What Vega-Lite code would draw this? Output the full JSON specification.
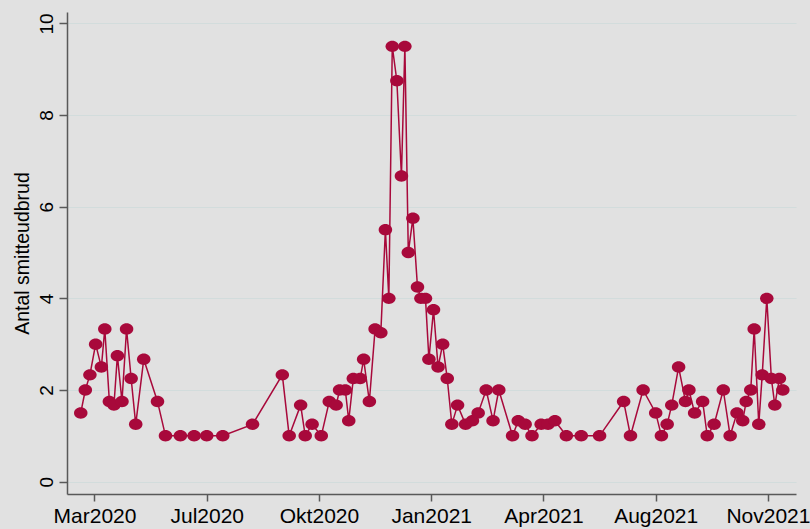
{
  "$schema": "https://vega.github.io/schema/vega-lite/v6.json",
  "autosize": "none",
  "width": 729,
  "height": 482,
  "padding": {"left": 67, "top": 12, "right": 14, "bottom": 35},
  "background": "#e1e1e1",
  "config": {
    "view": {"stroke": null},
    "font": "Liberation Sans",
    "axis": {
      "domainColor": "#595959",
      "domainWidth": 1.5,
      "tickColor": "#595959",
      "tickWidth": 1.5,
      "labelColor": "#000000",
      "titleColor": "#000000",
      "labelFont": "Liberation Sans",
      "titleFont": "Liberation Sans",
      "titleFontWeight": "normal"
    }
  },
  "data": {
    "values": [
      {"dato": "2020-03-18", "antal": 1.5},
      {"dato": "2020-03-22", "antal": 2},
      {"dato": "2020-03-26", "antal": 2.33},
      {"dato": "2020-03-31", "antal": 3},
      {"dato": "2020-04-05", "antal": 2.5},
      {"dato": "2020-04-08", "antal": 3.33},
      {"dato": "2020-04-12", "antal": 1.75},
      {"dato": "2020-04-16", "antal": 1.67},
      {"dato": "2020-04-19", "antal": 2.75},
      {"dato": "2020-04-23", "antal": 1.75},
      {"dato": "2020-04-27", "antal": 3.33},
      {"dato": "2020-05-01", "antal": 2.25},
      {"dato": "2020-05-05", "antal": 1.25},
      {"dato": "2020-05-12", "antal": 2.67},
      {"dato": "2020-05-24", "antal": 1.75},
      {"dato": "2020-05-31", "antal": 1},
      {"dato": "2020-06-13", "antal": 1},
      {"dato": "2020-06-25", "antal": 1},
      {"dato": "2020-07-06", "antal": 1},
      {"dato": "2020-07-20", "antal": 1},
      {"dato": "2020-08-15", "antal": 1.25},
      {"dato": "2020-09-10", "antal": 2.33},
      {"dato": "2020-09-16", "antal": 1},
      {"dato": "2020-09-26", "antal": 1.67},
      {"dato": "2020-09-30", "antal": 1},
      {"dato": "2020-10-06", "antal": 1.25},
      {"dato": "2020-10-14", "antal": 1},
      {"dato": "2020-10-21", "antal": 1.75},
      {"dato": "2020-10-27", "antal": 1.67},
      {"dato": "2020-10-30", "antal": 2},
      {"dato": "2020-11-04", "antal": 2},
      {"dato": "2020-11-07", "antal": 1.33},
      {"dato": "2020-11-11", "antal": 2.25},
      {"dato": "2020-11-17", "antal": 2.25},
      {"dato": "2020-11-20", "antal": 2.67},
      {"dato": "2020-11-25", "antal": 1.75},
      {"dato": "2020-11-30", "antal": 3.33},
      {"dato": "2020-12-05", "antal": 3.25},
      {"dato": "2020-12-09", "antal": 5.5},
      {"dato": "2020-12-12", "antal": 4},
      {"dato": "2020-12-15", "antal": 9.5},
      {"dato": "2020-12-19", "antal": 8.75},
      {"dato": "2020-12-23", "antal": 6.67},
      {"dato": "2020-12-26", "antal": 9.5},
      {"dato": "2020-12-29", "antal": 5},
      {"dato": "2021-01-02", "antal": 5.75},
      {"dato": "2021-01-06", "antal": 4.25},
      {"dato": "2021-01-09", "antal": 4},
      {"dato": "2021-01-13", "antal": 4},
      {"dato": "2021-01-16", "antal": 2.67},
      {"dato": "2021-01-20", "antal": 3.75},
      {"dato": "2021-01-24", "antal": 2.5},
      {"dato": "2021-01-28", "antal": 3},
      {"dato": "2021-02-01", "antal": 2.25},
      {"dato": "2021-02-05", "antal": 1.25},
      {"dato": "2021-02-10", "antal": 1.67},
      {"dato": "2021-02-17", "antal": 1.25},
      {"dato": "2021-02-23", "antal": 1.33},
      {"dato": "2021-02-28", "antal": 1.5},
      {"dato": "2021-03-07", "antal": 2},
      {"dato": "2021-03-13", "antal": 1.33},
      {"dato": "2021-03-18", "antal": 2},
      {"dato": "2021-03-30", "antal": 1},
      {"dato": "2021-04-04", "antal": 1.33},
      {"dato": "2021-04-10", "antal": 1.25},
      {"dato": "2021-04-16", "antal": 1},
      {"dato": "2021-04-24", "antal": 1.25},
      {"dato": "2021-04-30", "antal": 1.25},
      {"dato": "2021-05-06", "antal": 1.33},
      {"dato": "2021-05-16", "antal": 1},
      {"dato": "2021-05-29", "antal": 1},
      {"dato": "2021-06-14", "antal": 1},
      {"dato": "2021-07-05", "antal": 1.75},
      {"dato": "2021-07-11", "antal": 1},
      {"dato": "2021-07-22", "antal": 2},
      {"dato": "2021-08-02", "antal": 1.5},
      {"dato": "2021-08-07", "antal": 1},
      {"dato": "2021-08-12", "antal": 1.25},
      {"dato": "2021-08-16", "antal": 1.67},
      {"dato": "2021-08-22", "antal": 2.5},
      {"dato": "2021-08-28", "antal": 1.75},
      {"dato": "2021-08-31", "antal": 2},
      {"dato": "2021-09-05", "antal": 1.5},
      {"dato": "2021-09-12", "antal": 1.75},
      {"dato": "2021-09-16", "antal": 1},
      {"dato": "2021-09-22", "antal": 1.25},
      {"dato": "2021-09-30", "antal": 2},
      {"dato": "2021-10-06", "antal": 1},
      {"dato": "2021-10-12", "antal": 1.5},
      {"dato": "2021-10-17", "antal": 1.33},
      {"dato": "2021-10-20", "antal": 1.75},
      {"dato": "2021-10-24", "antal": 2},
      {"dato": "2021-10-27", "antal": 3.33},
      {"dato": "2021-10-31", "antal": 1.25},
      {"dato": "2021-11-03", "antal": 2.33},
      {"dato": "2021-11-07", "antal": 4},
      {"dato": "2021-11-11", "antal": 2.25},
      {"dato": "2021-11-14", "antal": 1.67},
      {"dato": "2021-11-18", "antal": 2.25},
      {"dato": "2021-11-21", "antal": 2}
    ]
  },
  "mark": {
    "type": "line",
    "color": "#a8093b",
    "strokeWidth": 1.5,
    "point": {
      "filled": true,
      "size": 182,
      "shape": "M-1,0A1,0.85,0,1,1,1,0A1,0.85,0,1,1,-1,0Z",
      "color": "#a8093b",
      "opacity": 1
    }
  },
  "encoding": {
    "x": {
      "field": "dato",
      "type": "temporal",
      "title": null,
      "scale": {
        "type": "utc",
        "domain": [
          {"year": 2020, "month": 3, "date": 6, "utc": true},
          {"year": 2021, "month": 12, "date": 2, "hours": 12, "utc": true}
        ]
      },
      "axis": {
        "values": [
          {"year": 2020, "month": 3, "date": 30, "utc": true},
          {"year": 2020, "month": 7, "date": 6, "utc": true},
          {"year": 2020, "month": 10, "date": 12, "utc": true},
          {"year": 2021, "month": 1, "date": 18, "utc": true},
          {"year": 2021, "month": 4, "date": 26, "utc": true},
          {"year": 2021, "month": 8, "date": 2, "utc": true},
          {"year": 2021, "month": 11, "date": 8, "utc": true}
        ],
        "format": "%b%Y",
        "labelExpr": "replace(datum.label, 'Oct', 'Okt')",
        "grid": false,
        "tickSize": 7,
        "labelPadding": 4,
        "labelFontSize": 21,
        "labelFlush": false,
        "labelOverlap": false
      }
    },
    "y": {
      "field": "antal",
      "type": "quantitative",
      "title": "Antal smitteudbrud",
      "scale": {"domain": [-0.27, 10.25], "nice": false, "zero": false},
      "axis": {
        "values": [0, 2, 4, 6, 8, 10],
        "grid": true,
        "gridColor": "#d2dcdc",
        "gridWidth": 1.2,
        "tickSize": 8,
        "labelAngle": -90,
        "labelAlign": "center",
        "labelBaseline": "alphabetic",
        "labelPadding": 7,
        "labelFontSize": 19,
        "labelFlush": false,
        "titleFontSize": 19.5,
        "titleAngle": -90,
        "titleAlign": "center",
        "titleBaseline": "alphabetic",
        "titleX": -39,
        "titleY": 241
      }
    }
  }
}
